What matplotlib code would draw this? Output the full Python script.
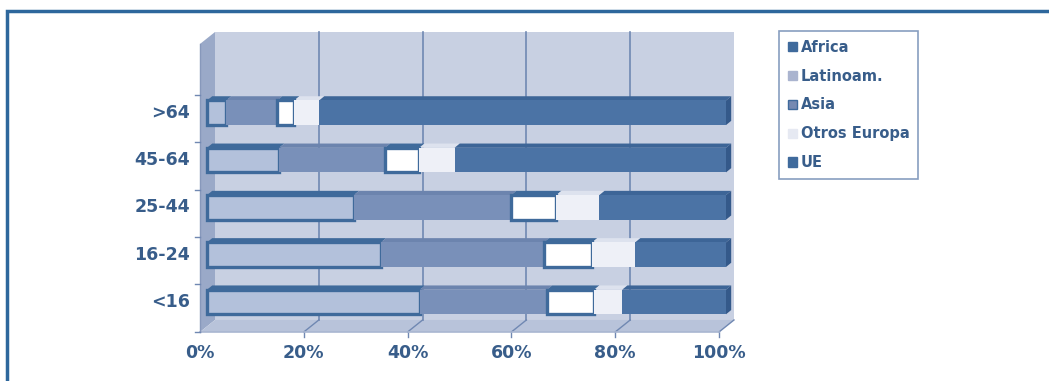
import numpy as np
import matplotlib
matplotlib.use('Agg')
import matplotlib.pyplot as plt
from matplotlib.patches import Rectangle, Polygon, Patch

# datos (porcentaje por grupo de edad, de abajo arriba)
categories = ['<16', '16-24', '25-44', '45-64', '>64']
series = ['Africa', 'Latinoam.', 'Asia', 'Otros Europa', 'UE']
africa = [41.0, 33.5, 28.3, 13.9, 3.7]
latinoam = [24.5, 31.4, 30.3, 20.4, 9.8]
asia = [9.1, 9.3, 8.7, 6.6, 3.3]
otros = [5.4, 8.3, 8.3, 6.8, 4.8]
ue = [20.0, 17.5, 24.4, 52.3, 78.4]
xticks = [0, 20, 40, 60, 80, 100]

values = [africa, latinoam, asia, otros, ue]
face = ['#b3c1db', '#7990b9', '#ffffff', '#eef0f7', '#4b73a5']
edge = ['#3f6a9b', 'none', '#3f6a9b', 'none', 'none']
top = ['#3f6a9b', '#6c84ae', '#3f6a9b', '#dde2ee', '#3d6597']
legend_col = ['#3f6a9c', '#aab4cf', '#7589b2', '#e6e9f2', '#3f6a9c']
txt = '#385d8a'

W, H = 1049, 381
fig = plt.figure(figsize=(W / 100, H / 100), dpi=100)
ax = fig.add_axes([190 / W, (H - 345) / H, (745 - 190) / W, (345 - 25) / H])
ax.set_xlim(-3.276, 103.66)
ax.set_ylim(-0.909, 5.856)
ax.axis('off')

# pseudo 3D geometry
fdx, bdx = -1.35, 1.54
fdy, bdy = -0.127, 0.127
floor_f, floor_b = -0.634, -0.38
top_f, top_b = 5.455, 5.708

# back wall, side wall, floor
ax.add_patch(Rectangle((bdx, floor_b), 100, top_b - floor_b, fc='#c8d0e2', ec='none', zorder=0))
ax.add_patch(Polygon([(fdx, floor_f), (bdx, floor_b), (bdx, top_b), (fdx, top_f)],
                     closed=True, fc='#9aa9c8', ec='none', zorder=1))
ax.add_patch(Polygon([(fdx, floor_f), (100 + fdx, floor_f), (100 + bdx, floor_b), (bdx, floor_b)],
                     closed=True, fc='#b8c3da', ec='none', zorder=1))
for v in xticks[1:-1]:
    ax.plot([v + bdx, v + bdx], [floor_b, top_b], color='#7088b2', lw=1.2, zorder=1)
for v in xticks[1:]:
    ax.plot([v + fdx, v + bdx], [floor_f, floor_b], color='#7088b2', lw=1.0, zorder=1)
    ax.plot([v + fdx, v + fdx], [floor_f, floor_f - 0.1], color='#7088b2', lw=1.0)
ax.plot([fdx, 100 + fdx], [floor_f, floor_f], color='#a9b6d1', lw=1.2, zorder=2)
ax.plot([fdx, fdx], [floor_f, top_f], color='#8798bb', lw=1.0, zorder=2)
for i in range(len(categories) + 1):
    yt = i - 0.5 + fdy
    ax.plot([fdx - 1.0, fdx], [yt, yt], color='#7088b2', lw=1.0)

# bars
ypos = np.arange(len(categories))
bh = 0.52
tdx, tdy = 1.0, 0.09
left = np.zeros(len(categories))
for k, vals in enumerate(values):
    vals = np.array(vals)
    ax.barh(ypos, vals, left=left, height=bh, color=face[k],
            edgecolor=edge[k], linewidth=2.4 if edge[k] != 'none' else 0, zorder=3 + k * 0.01)
    for j in range(len(categories)):
        x0, x1 = left[j], left[j] + vals[j]
        yt = ypos[j] + bh / 2
        ax.add_patch(Polygon([(x0, yt), (x1, yt), (x1 + tdx, yt + tdy), (x0 + tdx, yt + tdy)],
                             closed=True, fc=top[k], ec='none', zorder=3))
        if k == len(values) - 1:
            yb = ypos[j] - bh / 2
            ax.add_patch(Polygon([(x1, yb), (x1, yt), (x1 + tdx, yt + tdy), (x1 + tdx, yb + tdy)],
                                 closed=True, fc='#34598a', ec='none', zorder=3))
    left += vals

# labels
for v in xticks:
    ax.text(v + fdx, -1.08, f'{v}%', ha='center', va='center', fontsize=12.5,
            fontweight='bold', color=txt, clip_on=False)
for j, c in enumerate(categories):
    ax.text(-3.28, ypos[j], c, ha='right', va='center', fontsize=12.5,
            fontweight='bold', color=txt, clip_on=False)

# legend
handles = [Patch(fc=legend_col[k], ec='#3f6a9c' if k == 2 else legend_col[k], lw=1)
           for k in range(len(series))]
leg = fig.legend(handles, series, loc='upper left', bbox_to_anchor=(779 / W, 1 - 31 / H),
                 borderaxespad=0, frameon=True, fancybox=False, edgecolor='#6a86b0',
                 handlelength=0.6, handleheight=0.6, handletextpad=0.3, labelspacing=0.95,
                 borderpad=0.6, prop={'weight': 'bold', 'size': 10.5})
leg.get_frame().set_linewidth(1.2)
for t in leg.get_texts():
    t.set_color(txt)

# marco exterior
fig.patches.append(Rectangle((7 / W, -0.5), 2, 1 - 11 / H + 0.5, transform=fig.transFigure,
                             fill=False, ec='#2e679c', lw=2.5))

fig.savefig('out.png', dpi=100)
